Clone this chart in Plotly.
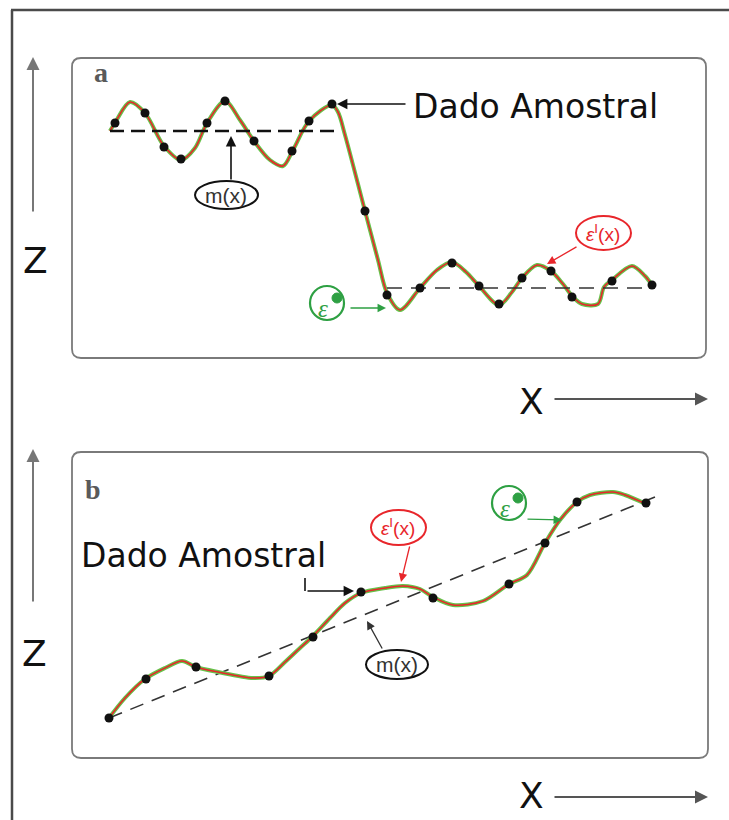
import plotly.graph_objects as go

W, H = 729, 820

# ---------------- panel a: profile around a stepped mean ----------------
xa_curve = [110, 116, 130, 145, 164, 181, 195, 207, 225, 240, 254, 270, 283, 293, 309,
            332, 338, 345, 365, 378, 387, 400, 420, 437, 452, 466, 479, 499, 512, 522,
            537, 551, 563, 573, 582, 598, 604, 612, 632, 645, 652]
za_curve = [269, 279, 298, 287, 254, 240, 252, 277, 299, 280, 259, 240, 234, 250, 279,
            295, 288, 265, 189, 140, 107, 90, 112, 130, 138, 128, 114, 95, 108, 122,
            135, 129, 116, 103, 96, 96, 113, 120, 134, 124, 115]
xa_dots = [115, 145, 164, 181, 207, 225, 254, 292, 309, 332, 365,
           387, 420, 452, 479, 499, 522, 551, 572, 612, 652]
za_dots = [277, 287, 253, 241, 277, 299, 259, 249, 279, 296, 189,
           105, 112, 137, 114, 96, 122, 129, 103, 119, 115]
xa_mean_hi = [110, 340]
za_mean_hi = [269, 269]
xa_mean_lo = [387, 650]
za_mean_lo = [112, 112]

# ---------------- panel b: profile around a linear trend ----------------
xb_curve = [109, 125, 145, 165, 182, 196, 218, 253, 269, 285, 300, 312, 330, 345, 361,
            385, 403, 420, 433, 453, 483, 509, 527, 545, 560, 577, 590, 613, 625, 646]
zb_curve = [82, 102, 121, 132, 139, 133, 128, 122, 124, 138, 152, 163, 182, 197, 207,
            212, 214, 211, 203, 195, 199, 216, 225, 257, 280, 298, 305, 308, 305, 296]
xb_dots = [109, 146, 196, 269, 313, 361, 433, 509, 545, 577, 646]
zb_dots = [82, 121, 133, 124, 163, 208, 202, 216, 257, 298, 297]
xb_trend = [109, 655]
zb_trend = [82, 303]

RED = "#e8262b"
GREEN_LINE = "#66c24a"
GREEN = "#2ea043"
INK = "#111111"


def P(x, y):
    """pixel position -> paper coordinates"""
    return x / W, 1 - y / H


def rounded_rect(x0, y0, x1, y1, r):
    rx, ry = r / W, r / H
    a0, b1 = P(x0, y0)
    a1, b0 = P(x1, y1)
    return (f"M {a0 + rx},{b1} L {a1 - rx},{b1} Q {a1},{b1} {a1},{b1 - ry} "
            f"L {a1},{b0 + ry} Q {a1},{b0} {a1 - rx},{b0} L {a0 + rx},{b0} "
            f"Q {a0},{b0} {a0},{b0 + ry} L {a0},{b1 - ry} Q {a0},{b1} {a0 + rx},{b1} Z")


def ellipse(x0, y0, x1, y1, color, width=2, fill=None):
    a0, b1 = P(x0, y0)
    a1, b0 = P(x1, y1)
    return dict(type="circle", xref="paper", yref="paper", x0=a0, x1=a1, y0=b0, y1=b1,
                line=dict(color=color, width=width),
                fillcolor=fill if fill else "rgba(255,255,255,0.95)")


def line(x0, y0, x1, y1, color, width):
    a0, b0 = P(x0, y0)
    a1, b1 = P(x1, y1)
    return dict(type="line", xref="paper", yref="paper", x0=a0, y0=b0, x1=a1, y1=b1,
                line=dict(color=color, width=width))


def arrow(tail, tip, color, width=1.5, size=1.2, head=2):
    x, y = P(*tip)
    return dict(x=x, y=y, xref="paper", yref="paper", text="", showarrow=True,
                ax=tail[0] - tip[0], ay=tail[1] - tip[1], axref="pixel", ayref="pixel",
                arrowhead=head, arrowsize=size, arrowwidth=width, arrowcolor=color,
                standoff=0, startstandoff=0)


def label(x, y, text, size, color=INK, family="DejaVu Sans", xanchor="center"):
    px, py = P(x, y)
    return dict(x=px, y=py, xref="paper", yref="paper", text=text, showarrow=False,
                xanchor=xanchor, yanchor="middle",
                font=dict(size=size, color=color, family=family))


fig = go.Figure()

# panel a traces
fig.add_trace(go.Scatter(x=xa_curve, y=za_curve, mode="lines", xaxis="x", yaxis="y",
                         line=dict(color=GREEN_LINE, width=4, shape="spline", smoothing=0.9)))
fig.add_trace(go.Scatter(x=xa_curve, y=za_curve, mode="lines", xaxis="x", yaxis="y",
                         line=dict(color=RED, width=1.6, shape="spline", smoothing=0.9)))
fig.add_trace(go.Scatter(x=xa_mean_hi, y=za_mean_hi, mode="lines", xaxis="x", yaxis="y",
                         line=dict(color=INK, width=2.5, dash="14px,7px")))
fig.add_trace(go.Scatter(x=xa_mean_lo, y=za_mean_lo, mode="lines", xaxis="x", yaxis="y",
                         line=dict(color="#333333", width=1.6, dash="15px,9px")))
fig.add_trace(go.Scatter(x=xa_dots, y=za_dots, mode="markers", xaxis="x", yaxis="y",
                         marker=dict(color=INK, size=9)))

# panel b traces
fig.add_trace(go.Scatter(x=xb_trend, y=zb_trend, mode="lines", xaxis="x2", yaxis="y2",
                         line=dict(color="#333333", width=1.6, dash="14px,9px")))
fig.add_trace(go.Scatter(x=xb_curve, y=zb_curve, mode="lines", xaxis="x2", yaxis="y2",
                         line=dict(color=GREEN_LINE, width=4, shape="spline", smoothing=0.9)))
fig.add_trace(go.Scatter(x=xb_curve, y=zb_curve, mode="lines", xaxis="x2", yaxis="y2",
                         line=dict(color=RED, width=1.6, shape="spline", smoothing=0.9)))
fig.add_trace(go.Scatter(x=xb_dots, y=zb_dots, mode="markers", xaxis="x2", yaxis="y2",
                         marker=dict(color=INK, size=9)))

hidden = dict(showgrid=False, zeroline=False, showticklabels=False, ticks="", showline=False)

shapes = [
    # outer frame
    line(12, 10, 12, 820, "#4a4a4a", 2.5),
    line(11, 10, 729, 10, "#4a4a4a", 2.5),
    # panel frames
    dict(type="path", xref="paper", yref="paper", path=rounded_rect(72, 58, 706, 358, 9),
         line=dict(color="#7a7a7a", width=1.8)),
    dict(type="path", xref="paper", yref="paper", path=rounded_rect(72, 452, 708, 758, 9),
         line=dict(color="#7a7a7a", width=1.8)),
    # label bubbles, panel a
    ellipse(195, 181, 258, 209, INK, 2),
    ellipse(576, 216, 631, 250, RED, 2),
    ellipse(310, 286, 344, 320, GREEN, 2.2),
    ellipse(332, 293, 342, 303, GREEN, 1, GREEN),
    # label bubbles, panel b
    ellipse(366, 650, 428, 679, INK, 2),
    ellipse(371, 510, 426, 545, RED, 2),
    ellipse(492, 486, 526, 520, GREEN, 2.2),
    ellipse(513, 493, 523, 503, GREEN, 1, GREEN),
    # elbow leader for the sample in panel b
    line(305, 578, 305, 591, INK, 1.6),
]

annotations = [
    label(101, 73, "<b>a</b>", 28, "#5a5a5a", "Liberation Serif"),
    label(93, 489, "<b>b</b>", 28, "#5a5a5a", "Liberation Serif"),
    label(411, 106, "Dado Amostral", 33, INK, xanchor="left"),
    label(79, 555, "Dado Amostral", 33, INK, xanchor="left"),
    label(35, 260, "Z", 36, INK),
    label(34, 653, "Z", 36, INK),
    label(531, 401, "X", 36, INK),
    label(531, 795, "X", 36, INK),
    label(226, 195, "m(x)", 21, "#333333", "Liberation Sans Narrow, Liberation Sans"),
    label(397, 664, "m(x)", 21, "#333333", "Liberation Sans Narrow, Liberation Sans"),
    label(603, 233, "<i>ε</i><sup>I</sup>(x)", 19, RED, "Liberation Sans"),
    label(398, 527, "<i>ε</i><sup>I</sup>(x)", 19, RED, "Liberation Sans"),
    label(323, 308, "<i>ε</i>", 25, GREEN, "Liberation Serif"),
    label(505, 508, "<i>ε</i>", 25, GREEN, "Liberation Serif"),
    # axis arrows
    arrow((33, 213), (33, 57), "#777777", 2, 1.3),
    arrow((33, 603), (33, 449), "#777777", 2, 1.3),
    arrow((553, 399), (708, 399), "#555555", 2, 1.3),
    arrow((553, 797), (708, 797), "#555555", 2, 1.3),
    # leaders
    arrow((407, 104), (337, 104), INK, 1.6, 1.3),
    arrow((231, 181), (231, 136), INK, 1.6, 1.3),
    arrow((578, 246), (547, 264), RED, 1.3, 1.3),
    arrow((349, 308), (386, 308), GREEN, 1.3, 1.3),
    arrow((306, 591), (354, 591), INK, 1.6, 1.3),
    arrow((410, 545), (401, 582), RED, 1.3, 1.3),
    arrow((383, 650), (367, 621), "#333333", 1.3, 1.3),
    arrow((526, 519), (562, 520), GREEN, 1.3, 1.3),
]

fig.update_layout(
    width=W, height=H,
    margin=dict(l=0, r=0, t=0, b=0),
    paper_bgcolor="white", plot_bgcolor="rgba(0,0,0,0)",
    showlegend=False,
    xaxis=dict(domain=[72 / W, 706 / W], range=[72, 706], **hidden),
    yaxis=dict(domain=[1 - 358 / H, 1 - 58 / H], range=[42, 342], **hidden),
    xaxis2=dict(domain=[72 / W, 708 / W], range=[72, 708], anchor="y2", **hidden),
    yaxis2=dict(domain=[1 - 758 / H, 1 - 452 / H], range=[42, 348], anchor="x2", **hidden),
    shapes=shapes,
    annotations=annotations,
)

fig.write_html("out.html")
